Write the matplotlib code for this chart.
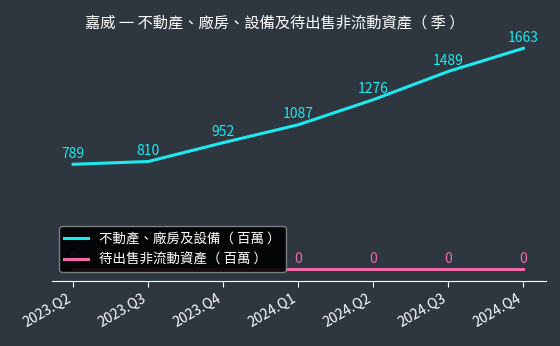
import numpy as np
import matplotlib.pyplot as plt

plt.rcParams['font.family'] = ['Noto Sans CJK TC', 'DejaVu Sans']

# Data
quarters = ["2023.Q2", "2023.Q3", "2023.Q4", "2024.Q1", "2024.Q2", "2024.Q3", "2024.Q4"]
ppe = [789, 810, 952, 1087, 1276, 1489, 1663]
held_for_sale = [0, 0, 0, 0, 0, 0, 0]

bg = "#2e3640"
c_ppe = "#1de9f0"
c_hfs = "#f06aa8"

fig = plt.figure(figsize=(5.6, 3.46), dpi=100, facecolor=bg)
ax = fig.add_axes([0.093, 0.188, 0.882, 0.71], facecolor=bg)

x = np.arange(len(quarters))
ax.plot(x, ppe, color=c_ppe, linewidth=2.2, label="不動產、廠房及設備（ 百萬 ）")
ax.plot(x, held_for_sale, color=c_hfs, linewidth=2.2, label="待出售非流動資產（ 百萬 ）")

for xi, v in zip(x, ppe):
    ax.text(xi, v + 25, str(v), color=c_ppe, ha="center", va="bottom", fontsize=10)
for xi, v in zip(x, held_for_sale):
    ax.text(xi, v + 25, str(v), color=c_hfs, ha="center", va="bottom", fontsize=10)

ax.set_xlim(-0.28, 6.3)
ax.set_ylim(-90, 1761)
ax.set_xticks(x)
ax.set_xticklabels(quarters, rotation=30, ha="right", color="white", fontsize=10)
ax.set_yticks([])
for s in ["left", "right", "top"]:
    ax.spines[s].set_visible(False)
ax.spines["bottom"].set_color("white")
ax.tick_params(axis="x", colors="white", length=4)

fig.text(0.491, 0.935, "嘉威 一 不動產、廠房、設備及待出售非流動資產（ 季 ）",
         color="white", fontsize=11, ha="center", va="center")

leg = ax.legend(loc="lower left", bbox_to_anchor=(0.0, 0.01), fontsize=9.7,
                handlelength=1.8, facecolor="black", edgecolor="#888888", framealpha=0.9)
for t in leg.get_texts():
    t.set_color("white")

fig.savefig("out.png", dpi=100, facecolor=bg)
